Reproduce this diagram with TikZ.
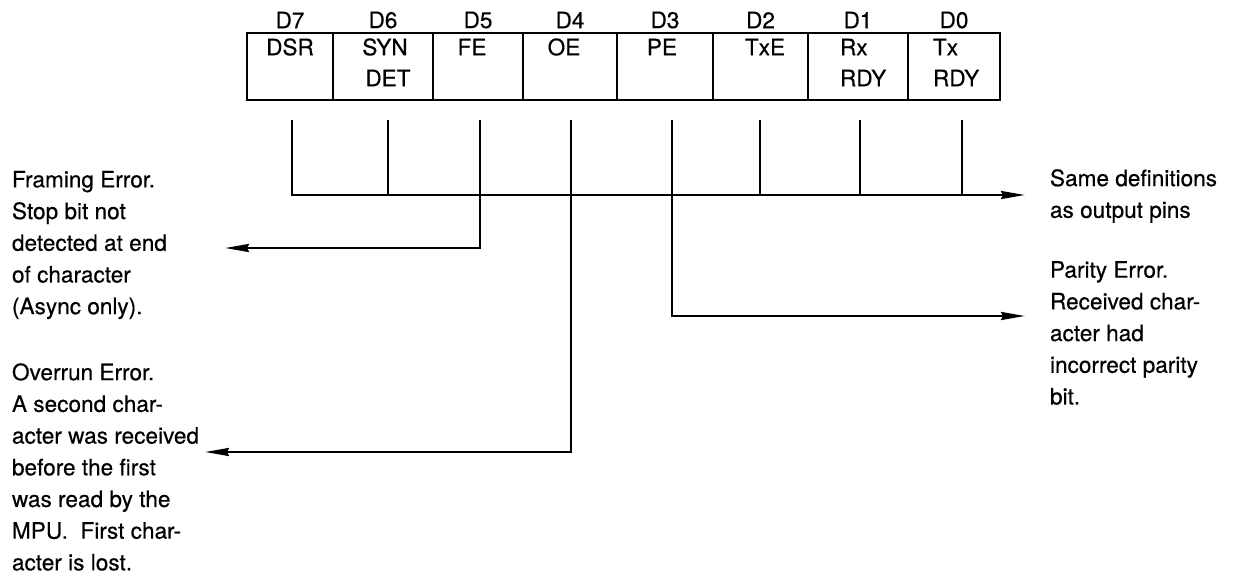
\documentclass[tikz,border=0pt]{standalone}
\usepackage{fontspec}
\setmainfont[FakeBold=0.4]{TeX Gyre Heros}
\usetikzlibrary{arrows.meta}
\begin{document}
\begin{tikzpicture}[x=0.5pt,y=-0.5pt,
  every node/.style={font=\fontsize{11.3}{15.85}\selectfont, inner sep=0pt, outer sep=0pt},
  cellbox/.style={draw, line width=1.1pt, minimum height=33.5pt, anchor=north west},
  wire/.style={line width=1.25pt},
  arr/.style={wire, -{Stealth[length=12pt,width=4pt,inset=1pt]}},
  note/.style={anchor=west, align=left}]
\useasboundingbox (0,0) rectangle (1236,574);
% register cells and bit labels
\foreach \a/\b/\n in {247/333/7, 333/433/6, 433/523/5, 523/617/4, 617/713/3, 713/808/2, 808/908/1, 908/1000/0} {
  \node[cellbox, minimum width={(\b-\a)*0.5pt}] (c\n) at (\a,33) {};
  \node (d\n) at ({(\a+\b)/2},20) {D\n};
}
% cell texts
\node (dsr) at (290,47) {DSR};
\node (syn) at (385,47) {SYN};
\node (det) at (388,78) {DET};
\node (fe) at (472,47) {FE};
\node (oe) at (564,47) {OE};
\node (pe) at (662,47) {PE};
\node (txe) at (765,47) {TxE};
\node[anchor=west] (rx) at (840,47) {Rx};
\node[anchor=west] (rxrdy) at (840,78) {RDY};
\node[anchor=west] (tx) at (933,47) {Tx};
\node[anchor=west] (txrdy) at (933,78) {RDY};
% line tops
\coordinate (t7) at (292,120);
\coordinate (t6) at (388,120);
\coordinate (t5) at (480,120);
\coordinate (t4) at (571,120);
\coordinate (t3) at (672,120);
\coordinate (t2) at (760,120);
\coordinate (t1) at (860,120);
\coordinate (t0) at (962,120);
\coordinate (busend) at (1025,195);
\coordinate (fetip) at (225,248);
\coordinate (oetip) at (205,452);
\coordinate (petip) at (1025,316);
% connectors
\draw[arr] (t7) |- (busend);
\foreach \n in {6,2,1,0} \draw[wire] (t\n) -- (t\n |- busend);
\draw[arr] (t5) |- (fetip);
\draw[arr] (t4) |- (oetip);
\draw[arr] (t3) |- (petip);
% notes
\node[note] (fenote) at (12,245) {Framing Error.\\Stop bit not\\detected at end\\of character\\(Async only).};
\node[note] (oenote) at (12,467) {Overrun Error.\\A second char-\\acter was received\\before the first\\was read by the\\MPU.\ \ First char-\\acter is lost.};
\node[note] (samenote) at (1050,196) {Same definitions\\as output pins};
\node[note] (penote) at (1050,333) {Parity Error.\\Received char-\\acter had\\incorrect parity\\bit.};
\end{tikzpicture}
\end{document}
